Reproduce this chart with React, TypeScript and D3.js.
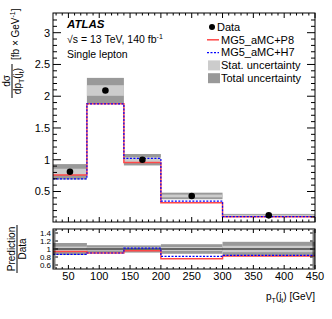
import { useEffect, useRef } from "react";
import { select, scaleLinear, line, curveStepAfter, range } from "d3";

const BIN_EDGES = [25, 80, 140, 200, 300, 450];
const DATA = [0.81, 2.09, 1.0, 0.43, 0.125];
const MG5_P8 = [0.76, 1.88, 0.955, 0.325, 0.103];
const MG5_H7 = [0.7, 1.88, 1.02, 0.35, 0.105];
const STAT_UNC = [0.06, 0.04, 0.04, 0.05, 0.08]; // relative
const TOTAL_UNC = [0.15, 0.095, 0.09, 0.12, 0.18]; // relative

const X_TICKS = [50, 100, 150, 200, 250, 300, 350, 400, 450];
const MAIN_Y_TICKS = [0.5, 1, 1.5, 2, 2.5, 3];
const RATIO_Y_TICKS = [0.6, 0.8, 1, 1.2, 1.4];

const LEGEND_LABELS = ["Data", "MG5_aMC+P8", "MG5_aMC+H7", "Stat. uncertainty", "Total uncertainty"];

const WIDTH = 332;
const HEIGHT = 319;
const LEFT = 53;
const RIGHT = 315;
const MAIN = { top: 13, bottom: 222 };
const RATIO = { top: 229, bottom: 269 };

const RED = "#ff4848";
const BLUE = "#0000ff";
const STAT_FILL = "#cccccc";
const TOTAL_FILL = "#999999";
const FONT = "'Liberation Sans', Arial, Helvetica, sans-serif";

export default function App() {
  const svgRef = useRef<SVGSVGElement>(null);

  useEffect(() => {
    const svg = select(svgRef.current);
    svg.selectAll("*").remove();
    svg.attr("width", WIDTH).attr("height", HEIGHT).style("font-family", FONT);

    const x = scaleLinear().domain([25, 450]).range([LEFT, RIGHT]);
    const y = scaleLinear().domain([0.02, 3.31]).range([MAIN.bottom, MAIN.top]);
    const yr = scaleLinear().domain([0.5, 1.5]).range([RATIO.bottom, RATIO.top]);

    const bins = DATA.map((d, i) => ({
      lo: BIN_EDGES[i],
      hi: BIN_EDGES[i + 1],
      data: d,
      stat: STAT_UNC[i],
      tot: TOTAL_UNC[i],
    }));

    // ---- main panel bands
    const main = svg.append("g");
    bins.forEach((b) => {
      main.append("rect")
        .attr("x", x(b.lo)).attr("width", x(b.hi) - x(b.lo))
        .attr("y", y(b.data * (1 + b.tot)))
        .attr("height", y(b.data * (1 - b.tot)) - y(b.data * (1 + b.tot)))
        .attr("fill", TOTAL_FILL);
      main.append("rect")
        .attr("x", x(b.lo)).attr("width", x(b.hi) - x(b.lo))
        .attr("y", y(b.data * (1 + b.stat)))
        .attr("height", y(b.data * (1 - b.stat)) - y(b.data * (1 + b.stat)))
        .attr("fill", STAT_FILL);
    });

    const stepPts = (vals: number[]) =>
      [...vals.map((v, i) => [BIN_EDGES[i], v]), [BIN_EDGES[vals.length], vals[vals.length - 1]]] as [number, number][];

    const mainLine = line<[number, number]>()
      .x((d) => x(d[0]))
      .y((d) => y(d[1]))
      .curve(curveStepAfter);

    main.append("path").attr("d", mainLine(stepPts(MG5_P8))).attr("fill", "none")
      .attr("stroke", RED).attr("stroke-width", 1.5);
    main.append("path").attr("d", mainLine(stepPts(MG5_H7))).attr("fill", "none")
      .attr("stroke", BLUE).attr("stroke-width", 1.2).attr("stroke-dasharray", "2,1.5");

    bins.forEach((b) => {
      main.append("circle").attr("cx", x((b.lo + b.hi) / 2)).attr("cy", y(b.data))
        .attr("r", 3.3).attr("fill", "#000");
    });

    // ---- ratio panel
    const rat = svg.append("g");
    bins.forEach((b) => {
      rat.append("rect")
        .attr("x", x(b.lo)).attr("width", x(b.hi) - x(b.lo))
        .attr("y", yr(1 + b.tot)).attr("height", yr(1 - b.tot) - yr(1 + b.tot))
        .attr("fill", TOTAL_FILL);
      rat.append("rect")
        .attr("x", x(b.lo)).attr("width", x(b.hi) - x(b.lo))
        .attr("y", yr(1 + b.stat)).attr("height", yr(1 - b.stat) - yr(1 + b.stat))
        .attr("fill", STAT_FILL);
    });
    rat.append("line").attr("x1", LEFT).attr("x2", RIGHT).attr("y1", yr(1)).attr("y2", yr(1))
      .attr("stroke", "#000").attr("stroke-width", 1);

    const ratioLine = line<[number, number]>()
      .x((d) => x(d[0]))
      .y((d) => yr(d[1]))
      .curve(curveStepAfter);
    rat.append("path").attr("d", ratioLine(stepPts(MG5_P8.map((v, i) => v / DATA[i]))))
      .attr("fill", "none").attr("stroke", RED).attr("stroke-width", 1.5);
    rat.append("path").attr("d", ratioLine(stepPts(MG5_H7.map((v, i) => v / DATA[i]))))
      .attr("fill", "none").attr("stroke", BLUE).attr("stroke-width", 1.2).attr("stroke-dasharray", "2,1.5");

    // ---- frames and ticks
    const drawFrame = (top: number, bottom: number, ys: typeof y, yMajor: number[], yMinor: number[],
      yLen: [number, number], xLen: [number, number]) => {
      const g = svg.append("g").attr("stroke", "#000").attr("stroke-width", 1);
      g.append("rect").attr("x", LEFT).attr("y", top).attr("width", RIGHT - LEFT)
        .attr("height", bottom - top).attr("fill", "none");
      const xMinor = range(30, 450, 10).filter((v) => v % 50 !== 0);
      X_TICKS.forEach((v) => {
        g.append("line").attr("x1", x(v)).attr("x2", x(v)).attr("y1", bottom).attr("y2", bottom - xLen[0]);
        g.append("line").attr("x1", x(v)).attr("x2", x(v)).attr("y1", top).attr("y2", top + xLen[0]);
      });
      xMinor.forEach((v) => {
        g.append("line").attr("x1", x(v)).attr("x2", x(v)).attr("y1", bottom).attr("y2", bottom - xLen[1]);
        g.append("line").attr("x1", x(v)).attr("x2", x(v)).attr("y1", top).attr("y2", top + xLen[1]);
      });
      yMajor.forEach((v) => {
        g.append("line").attr("x1", LEFT).attr("x2", LEFT + yLen[0]).attr("y1", ys(v)).attr("y2", ys(v));
        g.append("line").attr("x1", RIGHT).attr("x2", RIGHT - yLen[0]).attr("y1", ys(v)).attr("y2", ys(v));
      });
      yMinor.forEach((v) => {
        g.append("line").attr("x1", LEFT).attr("x2", LEFT + yLen[1]).attr("y1", ys(v)).attr("y2", ys(v));
        g.append("line").attr("x1", RIGHT).attr("x2", RIGHT - yLen[1]).attr("y1", ys(v)).attr("y2", ys(v));
      });
    };

    drawFrame(MAIN.top, MAIN.bottom, y, MAIN_Y_TICKS,
      range(0.1, 3.3, 0.1).filter((v) => Math.abs(v / 0.5 - Math.round(v / 0.5)) > 0.01),
      [8, 4], [5, 2.5]);
    drawFrame(RATIO.top, RATIO.bottom, yr, RATIO_Y_TICKS,
      range(0.55, 1.5, 0.05).filter((v) => Math.abs(v / 0.2 - Math.round(v / 0.2)) > 0.01),
      [5, 2.5], [4, 2]);

    // ---- tick labels
    MAIN_Y_TICKS.forEach((v) => {
      svg.append("text").attr("x", LEFT - 3).attr("y", y(v)).attr("dy", "0.35em")
        .attr("text-anchor", "end").attr("font-size", 11).text(String(v));
    });
    RATIO_Y_TICKS.forEach((v) => {
      svg.append("text").attr("x", LEFT - 2).attr("y", yr(v)).attr("dy", "0.35em")
        .attr("text-anchor", "end").attr("font-size", 8).text(String(v));
    });
    X_TICKS.forEach((v) => {
      svg.append("text").attr("x", x(v)).attr("y", 280)
        .attr("text-anchor", "middle").attr("font-size", 11).text(String(v));
    });

    // ---- axis titles
    const xt = svg.append("text").attr("x", RIGHT).attr("y", 300).attr("text-anchor", "end").attr("font-size", 10);
    xt.append("tspan").text("p");
    xt.append("tspan").attr("font-size", 7).attr("dy", 3).text("T");
    xt.append("tspan").attr("dy", -3).text("(j");
    xt.append("tspan").attr("font-size", 7).attr("dy", 3).text("t");
    xt.append("tspan").attr("dy", -3).text(") [GeV]");

    const yt = svg.append("g").attr("transform", "translate(12,81) rotate(-90)").attr("font-size", 10);
    yt.append("text").attr("x", 0).attr("y", -2).attr("text-anchor", "middle").text("dσ");
    yt.append("line").attr("x1", -17).attr("x2", 17).attr("y1", 0).attr("y2", 0).attr("stroke", "#000");
    const den = yt.append("text").attr("x", 0).attr("y", 9).attr("text-anchor", "middle");
    den.append("tspan").text("dp");
    den.append("tspan").attr("font-size", 7).attr("dy", 3).text("T");
    den.append("tspan").attr("dy", -3).text("(j");
    den.append("tspan").attr("font-size", 7).attr("dy", 3).text("t");
    den.append("tspan").attr("dy", -3).text(")");
    const br = yt.append("text").attr("x", 21).attr("y", 7);
    br.append("tspan").text("[fb × GeV");
    br.append("tspan").attr("font-size", 7).attr("dy", -4).text("-1");
    br.append("tspan").attr("dy", 4).text("]");

    const rt = svg.append("g").attr("transform", "translate(17,249) rotate(-90)").attr("font-size", 10);
    rt.append("text").attr("x", 0).attr("y", -2).attr("text-anchor", "middle").text("Prediction");
    rt.append("line").attr("x1", -24).attr("x2", 24).attr("y1", 0).attr("y2", 0).attr("stroke", "#000");
    rt.append("text").attr("x", 0).attr("y", 9).attr("text-anchor", "middle").text("Data");

    // ---- labels
    svg.append("text").attr("x", 67).attr("y", 28).attr("font-size", 11.5)
      .attr("font-weight", "bold").attr("font-style", "italic").text("ATLAS");
    const ecm = svg.append("text").attr("x", 67).attr("y", 43).attr("font-size", 10.5);
    ecm.append("tspan").text("√s = 13 TeV, 140 fb");
    ecm.append("tspan").attr("font-size", 7).attr("dy", -4).text("-1");
    svg.append("text").attr("x", 67).attr("y", 58).attr("font-size", 10.5).text("Single lepton");

    // ---- legend
    const lg = svg.append("g").attr("font-size", 11);
    const ly = (i: number) => 27 + i * 12.8;
    lg.append("circle").attr("cx", 212).attr("cy", ly(0)).attr("r", 3).attr("fill", "#000");
    lg.append("line").attr("x1", 207).attr("x2", 219).attr("y1", ly(1)).attr("y2", ly(1))
      .attr("stroke", RED).attr("stroke-width", 1.5);
    lg.append("line").attr("x1", 207).attr("x2", 219).attr("y1", ly(2)).attr("y2", ly(2))
      .attr("stroke", BLUE).attr("stroke-width", 1.2).attr("stroke-dasharray", "2,1.5");
    lg.append("rect").attr("x", 208).attr("y", ly(3) - 5).attr("width", 12).attr("height", 10).attr("fill", STAT_FILL);
    lg.append("rect").attr("x", 208).attr("y", ly(4) - 5).attr("width", 12).attr("height", 10).attr("fill", TOTAL_FILL);
    LEGEND_LABELS.forEach((t, i) => {
      lg.append("text").attr("x", i === 0 ? 217 : 221).attr("y", ly(i)).attr("dy", "0.35em").text(t);
    });
  }, []);

  return <svg ref={svgRef} style={{ position: "absolute", left: 0, top: 0 }} />;
}
